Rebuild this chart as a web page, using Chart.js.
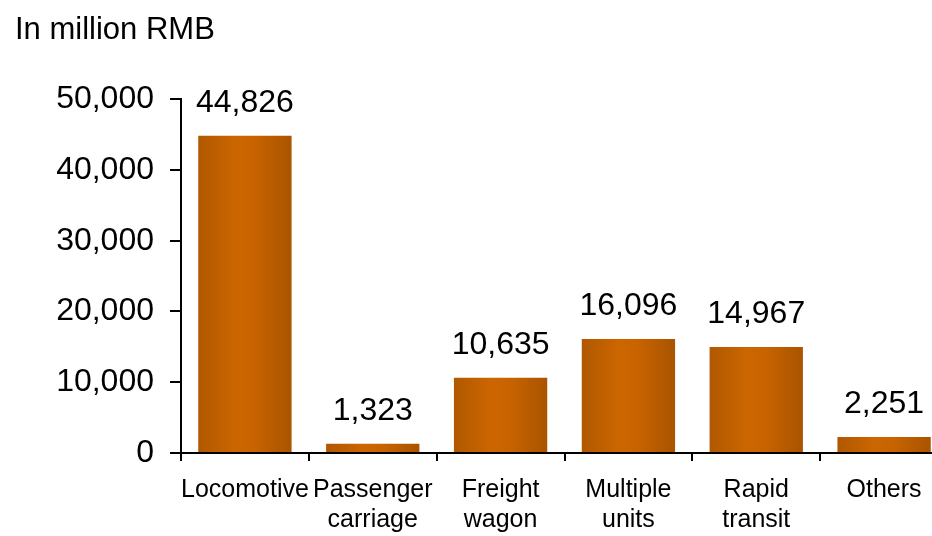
<!DOCTYPE html>
<html>
<head>
<meta charset="utf-8">
<script src="https://cdn.jsdelivr.net/npm/chart.js@4"></script>
<style>
  html, body { margin: 0; padding: 0; background: #fff; overflow: hidden; }
  #wrap { width: 950px; height: 536px; }
</style>
</head>
<body>
<div id="wrap"><canvas id="chart-area"></canvas></div>
<script>
var categories = ["Locomotive", ["Passenger", "carriage"], ["Freight", "wagon"], ["Multiple", "units"], ["Rapid", "transit"], "Others"];
var revenue = [44826, 1323, 10635, 16096, 14967, 2251];
var yTicks = [0, 10000, 20000, 30000, 40000, 50000];

var fontFamily = "'Liberation Sans', Arial, sans-serif";

function fmt(v) {
    return v.toLocaleString("en-US");
}

// horizontal shading across each bar
function barGradient(context) {
    var chart = context.chart;
    var xs = chart.scales.x;
    if (!chart.chartArea || !xs) return "#c46200";
    var cx = xs.getPixelForValue(context.dataIndex);
    var half = (xs.width / categories.length) * 0.73 / 2;
    var g = chart.ctx.createLinearGradient(cx - half, 0, cx + half, 0);
    g.addColorStop(0, "#b05800");
    g.addColorStop(0.4, "#cc6600");
    g.addColorStop(0.6, "#c86300");
    g.addColorStop(1, "#a95400");
    return g;
}

// value above every bar
var valueLabels = {
    id: "valueLabels",
    afterDatasetsDraw: function (chart) {
        var ctx = chart.ctx;
        var meta = chart.getDatasetMeta(0);
        ctx.save();
        ctx.font = "32px " + fontFamily;
        ctx.fillStyle = "#000";
        ctx.textAlign = "center";
        ctx.textBaseline = "alphabetic";
        meta.data.forEach(function (bar, i) {
            ctx.fillText(fmt(revenue[i]), bar.x, bar.y - 24);
        });
        ctx.restore();
    }
};

var ctx = document.getElementById("chart-area");

var myChart = new Chart(ctx, {
    type: "bar",
    data: {
        labels: categories,
        datasets: [{
            label: "revenue",
            data: revenue,
            backgroundColor: barGradient,
            borderWidth: 0,
            categoryPercentage: 1,
            barPercentage: 0.73
        }]
    },
    options: {
        responsive: true,
        maintainAspectRatio: false,
        animation: false,
        layout: {
            padding: { left: 15, right: 2, top: 0, bottom: 0 }
        },
        plugins: {
            legend: { display: false },
            tooltip: { enabled: false },
            title: {
                display: true,
                text: "In million RMB",
                align: "start",
                color: "#000",
                font: { family: fontFamily, size: 31, weight: "normal", lineHeight: 1.2 },
                padding: { top: 12, bottom: 50 }
            }
        },
        scales: {
            x: {
                offset: true,
                grid: {
                    drawOnChartArea: false,
                    drawTicks: true,
                    tickLength: 8,
                    color: "#000",
                    lineWidth: 2
                },
                border: { color: "#000", width: 2 },
                ticks: {
                    color: "#000",
                    padding: 14,
                    maxRotation: 0,
                    autoSkip: false,
                    font: { family: fontFamily, size: 25, lineHeight: 1.2 }
                },
                afterFit: function (scale) { scale.height = 83; }
            },
            y: {
                min: 0,
                max: 50000,
                afterBuildTicks: function (scale) {
                    scale.ticks = yTicks.map(function (v) { return { value: v }; });
                },
                grid: {
                    drawOnChartArea: false,
                    drawTicks: true,
                    tickLength: 11,
                    color: "#000",
                    lineWidth: 2
                },
                border: { color: "#000", width: 2 },
                ticks: {
                    color: "#000",
                    padding: 16,
                    font: { family: fontFamily, size: 32 },
                    callback: function (v) { return fmt(v); }
                },
                afterFit: function (scale) { scale.width = 166; }
            }
        }
    },
    plugins: [valueLabels]
});
</script>
</body>
</html>
